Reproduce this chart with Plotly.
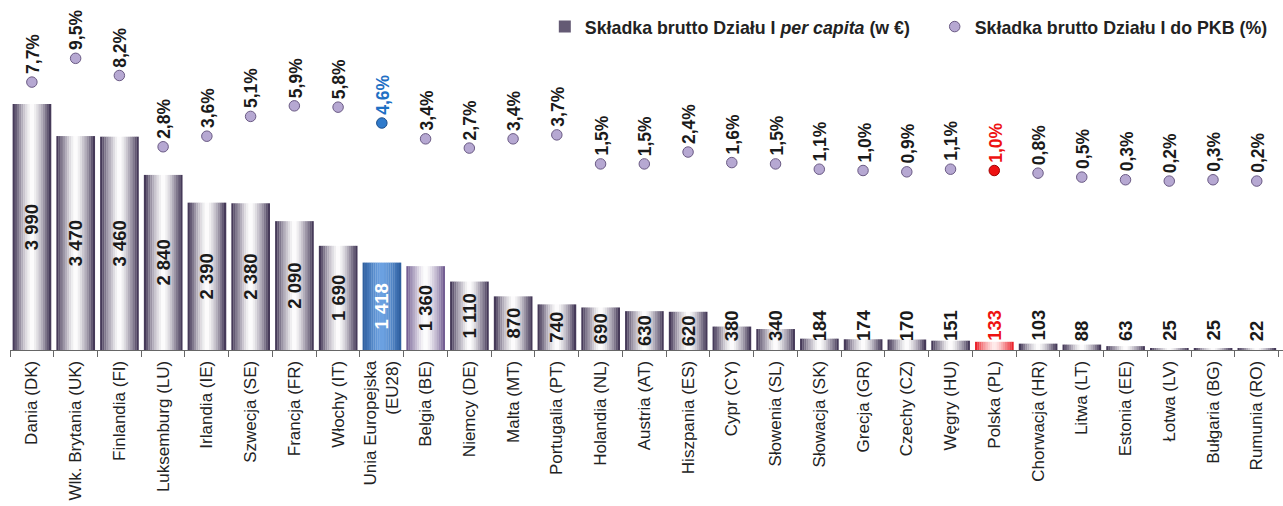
import plotly.graph_objects as go

categories = ["Dania (DK)", "Wlk. Brytania (UK)", "Finlandia (FI)", "Luksemburg (LU)",
              "Irlandia (IE)", "Szwecja (SE)", "Francja (FR)", "Włochy (IT)",
              "Unia Europejska<br>(EU28)", "Belgia (BE)", "Niemcy (DE)", "Malta (MT)",
              "Portugalia (PT)", "Holandia (NL)", "Austria (AT)", "Hiszpania (ES)",
              "Cypr (CY)", "Słowenia (SL)", "Słowacja (SK)", "Grecja (GR)",
              "Czechy (CZ)", "Węgry (HU)", "Polska (PL)", "Chorwacja (HR)",
              "Litwa (LT)", "Estonia (EE)", "Łotwa (LV)", "Bułgaria (BG)", "Rumunia (RO)"]
per_capita = [3990, 3470, 3460, 2840, 2390, 2380, 2090, 1690, 1418, 1360, 1110, 870,
              740, 690, 630, 620, 380, 340, 184, 174, 170, 151, 133, 103, 88, 63, 25, 25, 22]
pct_gdp = [7.7, 9.5, 8.2, 2.8, 3.6, 5.1, 5.9, 5.8, 4.6, 3.4, 2.7, 3.4, 3.7, 1.5, 1.5,
           2.4, 1.6, 1.5, 1.1, 1.0, 0.9, 1.1, 1.0, 0.8, 0.5, 0.3, 0.2, 0.3, 0.2]
highlight = ["", "", "", "", "", "", "", "", "eu", "be", "", "", "", "", "", "", "",
             "", "", "", "", "", "pl", "", "", "", "", "", ""]

FONT = "Liberation Sans, Arial, sans-serif"
palettes = {
    "": ((55, 42, 75), (255, 255, 255)),
    "be": ((104, 82, 138), (255, 255, 255)),
    "eu": ((42, 90, 155), (108, 162, 226)),
    "pl": ((232, 18, 28), (255, 236, 236)),
}
text_colors = {"": "#1a1a1a", "be": "#1a1a1a", "eu": "#ffffff", "pl": "#ee1111"}
dot_colors = {"": "#b6a8d2", "be": "#b6a8d2", "eu": "#2f7acb", "pl": "#ee1111"}
dot_lines = {"": "#6a5a84", "be": "#6a5a84", "eu": "#1d4f8c", "pl": "#a00000"}
pct_text_colors = {"": "#1a1a1a", "be": "#1a1a1a", "eu": "#1f70c4", "pl": "#ee1111"}


def mix(c1, c2, f):
    return "rgb(%d,%d,%d)" % tuple(round(a + (b - a) * f) for a, b in zip(c1, c2))


fig = go.Figure()

N = 18
W = 0.88
for i in range(N):
    t = (i + 0.5) / N
    f = 1 - abs(2 * t - 1) ** 1.4
    cols = [mix(palettes[h][0], palettes[h][1], f) for h in highlight]
    fig.add_trace(go.Bar(
        x=categories, y=per_capita,
        width=W / N * 1.08, offset=-W / 2 + i * W / N,
        marker=dict(color=cols, line=dict(width=0)),
        name="<b>Składka brutto Działu I <i>per capita</i> (w €)</b>" + "&nbsp;" * 4,
        legendgroup="bars", showlegend=(i == 1), hoverinfo="skip",
    ))

INSIDE_MIN = 600
fmt_val = [f"{v:,}".replace(",", " ") for v in per_capita]
fig.add_trace(go.Bar(
    x=categories, y=per_capita, width=W,
    marker=dict(color="rgba(0,0,0,0)", line=dict(width=0)),
    text=[s if v >= INSIDE_MIN else "" for s, v in zip(fmt_val, per_capita)],
    textposition="inside", insidetextanchor="middle", textangle=-90,
    insidetextfont=dict(size=18.5, family=FONT, weight="bold",
                        color=[text_colors[h] for h in highlight]),
    showlegend=False, hoverinfo="skip",
))

fig.add_trace(go.Scatter(
    x=categories, y=pct_gdp, yaxis="y2", mode="markers",
    marker=dict(size=10.5, color=[dot_colors[h] for h in highlight],
                line=dict(width=1, color=[dot_lines[h] for h in highlight])),
    name="<b>Składka brutto Działu I do PKB (%)</b>", cliponaxis=False,
))

for c, v, s, h in zip(categories, per_capita, fmt_val, highlight):
    if v < INSIDE_MIN:
        fig.add_annotation(x=c, y=0, yref="y", text=s, textangle=-90,
                           yanchor="bottom", yshift=7, showarrow=False,
                           font=dict(size=18.5, family=FONT, weight="bold",
                                     color=text_colors[h]))

for c, p, h in zip(categories, pct_gdp, highlight):
    fig.add_annotation(x=c, y=p, yref="y2", text=f"{p:.1f}".replace(".", ",") + "%",
                       textangle=-90, yanchor="bottom", yshift=6, xshift=1,
                       showarrow=False,
                       font=dict(size=17.5, family=FONT, weight="bold",
                                 color=pct_text_colors[h]))

fig.update_layout(
    width=1283, height=506,
    margin=dict(l=10, r=0, t=0, b=156),
    barmode="overlay",
    plot_bgcolor="white", paper_bgcolor="white",
    font=dict(family=FONT, color="#222"),
    xaxis=dict(type="category", range=[-0.5, 28.6], tickangle=-90,
               tickfont=dict(size=17, family=FONT, color="#222"),
               ticks="outside", ticklen=6, tickcolor="#666", tickson="boundaries",
               ticklabelstandoff=3,
               showline=True, linecolor="#666", linewidth=1,
               showgrid=False, automargin=False),
    yaxis=dict(range=[0, 5677], visible=False, showgrid=False, zeroline=False),
    yaxis2=dict(range=[-12.6, 13.92], overlaying="y", visible=False,
                showgrid=False, zeroline=False),
    legend=dict(orientation="h", x=0.992, xanchor="right", y=1 - 27 / 350,
                yanchor="middle", bgcolor="rgba(0,0,0,0)",
                font=dict(size=17.8, family=FONT, color="#222")),
    showlegend=True,
)

fig.write_html("out.html", config={"displayModeBar": False},
               post_script="document.body.style.margin='0px';")
